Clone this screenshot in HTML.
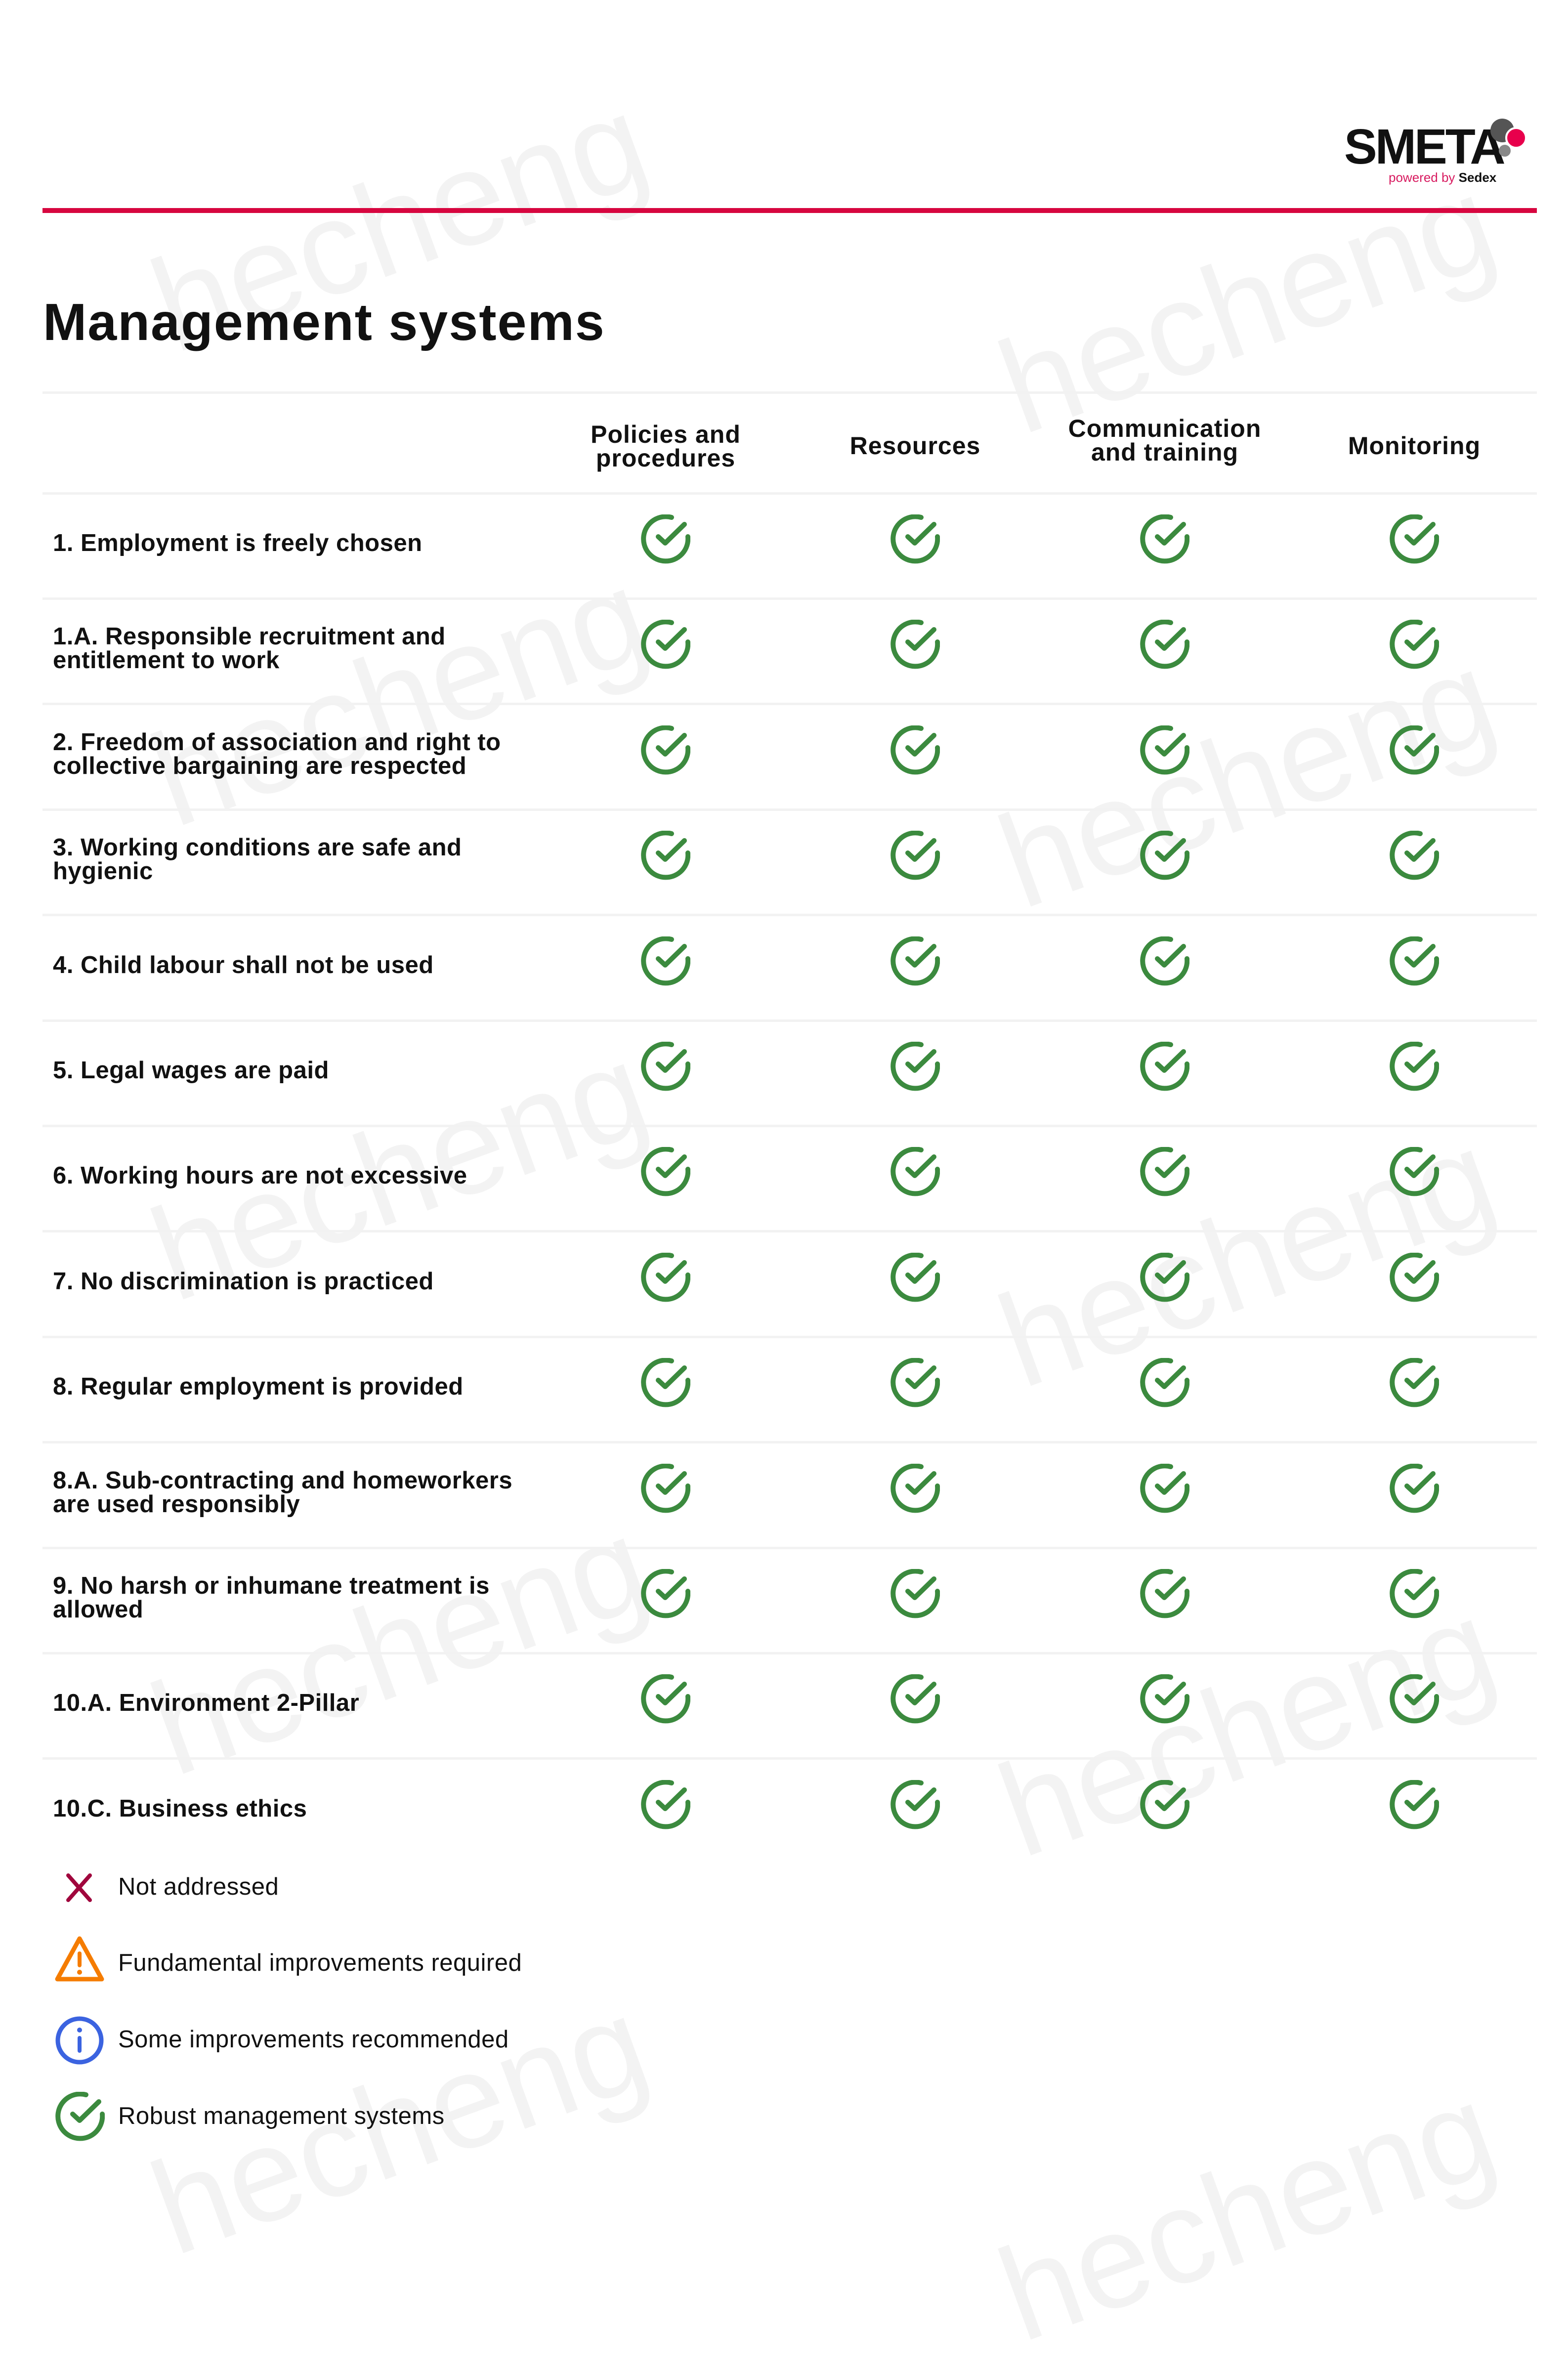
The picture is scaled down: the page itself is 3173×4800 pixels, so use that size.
<!DOCTYPE html>
<html><head><meta charset="utf-8">
<style>
html,body{margin:0;padding:0;background:#fff;}
body{width:3173px;height:4491px;position:relative;overflow:hidden;font-family:"Liberation Sans",sans-serif;color:#111;}
.wm{position:absolute;font-size:270px;color:#f3f3f3;transform:rotate(-20deg);transform-origin:left bottom;white-space:nowrap;font-family:"Liberation Sans",sans-serif;}
.abs{position:absolute;}
.line{position:absolute;left:86px;width:3024px;height:5px;background:#f2f2f2;}
.hd{position:absolute;width:500px;text-align:center;font-size:50px;font-weight:bold;line-height:48px;letter-spacing:1px;}
.lbl{position:absolute;left:107px;font-size:49px;font-weight:bold;line-height:48px;letter-spacing:0.5px;}
.ck{position:absolute;width:100px;height:100px;}
.lg{position:absolute;left:239px;font-size:49px;letter-spacing:0.5px;}
</style></head><body>
<div class="wm" style="left:375px;top:465px;">hecheng</div>
<div class="wm" style="left:2090px;top:630px;">hecheng</div>
<div class="wm" style="left:375px;top:1425px;">hecheng</div>
<div class="wm" style="left:2090px;top:1590px;">hecheng</div>
<div class="wm" style="left:375px;top:2385px;">hecheng</div>
<div class="wm" style="left:2090px;top:2560px;">hecheng</div>
<div class="wm" style="left:375px;top:3345px;">hecheng</div>
<div class="wm" style="left:2090px;top:3510px;">hecheng</div>
<div class="wm" style="left:375px;top:4315px;">hecheng</div>
<div class="wm" style="left:2090px;top:4490px;">hecheng</div>

<!-- logo -->
<div class="abs" style="left:2720px;top:240px;font-size:100px;font-weight:bold;letter-spacing:-4px;color:#111;">SMETA</div>
<svg class="abs" style="left:2998px;top:232px" width="110" height="110"><circle cx="42" cy="32" r="24" fill="#555"/><circle cx="70" cy="47" r="20" fill="#e8004c" stroke="#fff" stroke-width="4"/><circle cx="47" cy="73" r="12" fill="#888"/></svg>
<div class="abs" style="left:2810px;top:344px;font-size:26px;color:#d81b60;">powered by <b style="color:#111">Sedex</b></div>
<div class="abs" style="left:86px;top:421px;width:3024px;height:10px;background:#d7063f;"></div>

<div class="abs" style="left:87px;top:592px;font-size:106px;font-weight:bold;letter-spacing:2px;">Management systems</div>

<div class="line" style="top:792px"></div>
<div class="hd" style="left:1097px;top:855px">Policies and<br>procedures</div>
<div class="hd" style="left:1602px;top:878px">Resources</div>
<div class="hd" style="left:2107px;top:843px">Communication<br>and training</div>
<div class="hd" style="left:2612px;top:878px">Monitoring</div>
<div class="line" style="top:996px"></div>

<svg width="0" height="0" style="position:absolute"><defs>
<g id="c"><path d="M62 6 A45 45 0 1 0 95 45" fill="none" stroke="#3b8a3e" stroke-width="10" stroke-linecap="round"/><path d="M35 45 L49 58 L88 20" fill="none" stroke="#3b8a3e" stroke-width="10" stroke-linecap="round" stroke-linejoin="round"/></g>
</defs></svg>

<div id="rows"></div>
<script>
var labels=[["1. Employment is freely chosen"],["1.A. Responsible recruitment and","entitlement to work"],["2. Freedom of association and right to","collective bargaining are respected"],["3. Working conditions are safe and","hygienic"],["4. Child labour shall not be used"],["5. Legal wages are paid"],["6. Working hours are not excessive"],["7. No discrimination is practiced"],["8. Regular employment is provided"],["8.A. Sub-contracting and homeworkers","are used responsibly"],["9. No harsh or inhumane treatment is","allowed"],["10.A. Environment 2-Pillar"],["10.C. Business ethics"]];
var h="";var cols=[1347,1852,2357,2862];
for(var i=0;i<13;i++){var t0=996+i*213.4;var cy=t0+95;
 var l=labels[i];var ty=(l.length==1)?cy-24:cy-48;
 h+='<div class="lbl" style="top:'+(ty+8)+'px">'+l.join("<br>")+'</div>';
 for(var j=0;j<4;j++){h+='<svg class="ck" viewBox="0 0 100 100" style="left:'+(cols[j]-50)+'px;top:'+(cy-50)+'px"><use href="#c"/></svg>';}
 if(i<12)h+='<div class="line" style="top:'+(t0+213)+'px"></div>';}
document.getElementById("rows").innerHTML=h;
</script>

<!-- legend -->
<svg class="abs" style="left:125px;top:3785px" width="70" height="70"><path d="M13 10 L57 60 M57 10 L13 60" stroke="#a0063d" stroke-width="8" stroke-linecap="round"/></svg>
<div class="lg" style="top:3790px">Not addressed</div>
<svg class="abs" style="left:108px;top:3915px" width="106" height="100"><path d="M53 8 L98 90 L8 90 Z" fill="none" stroke="#f57c00" stroke-width="9" stroke-linejoin="round"/><path d="M53 38 L53 62" stroke="#f57c00" stroke-width="8" stroke-linecap="round"/><circle cx="53" cy="76" r="5" fill="#f57c00"/></svg>
<div class="lg" style="top:3944px">Fundamental improvements required</div>
<svg class="abs" style="left:110px;top:4078px" width="102" height="102"><circle cx="51" cy="51" r="44" fill="none" stroke="#3b63e0" stroke-width="9"/><circle cx="51" cy="30" r="5" fill="#3b63e0"/><path d="M51 46 L51 72" stroke="#3b63e0" stroke-width="8" stroke-linecap="round"/></svg>
<div class="lg" style="top:4099px">Some improvements recommended</div>
<svg class="abs" viewBox="0 0 100 100" style="left:112px;top:4233px" width="100" height="100"><use href="#c"/></svg>
<div class="lg" style="top:4254px">Robust management systems</div>
</body></html>
